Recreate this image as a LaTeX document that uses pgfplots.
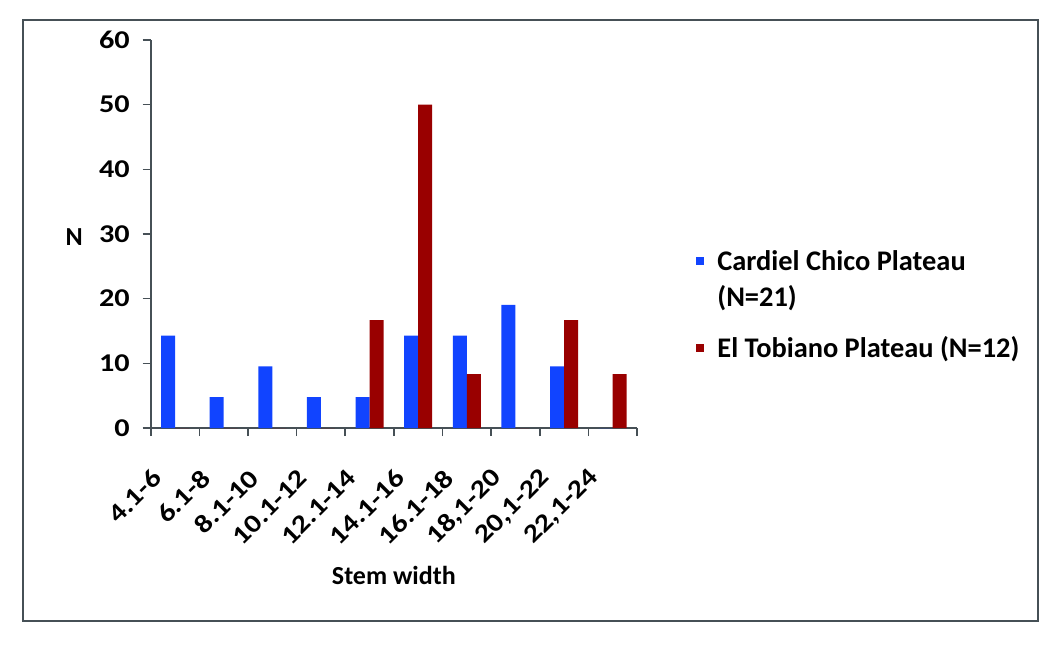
\documentclass[border=0pt]{standalone}
\usepackage{pgfplots}
\pgfplotsset{compat=1.18}
\usepackage{fontspec}
\setmainfont{Carlito}
\newfontfamily\tickfont{Carlito}[FakeStretch=1.18]
\definecolor{cblue}{RGB}{17,68,255}
\definecolor{cred}{RGB}{153,0,0}
\definecolor{axcol}{RGB}{70,80,86}
\newcommand{\tf}{\tickfont\bfseries\fontsize{12.8}{15}\selectfont}
\newcommand{\lf}{\bfseries\fontsize{14.2}{17}\selectfont}
\newcommand{\xf}{\bfseries\fontsize{13}{16}\selectfont}
\begin{document}
\begin{tikzpicture}
\path[use as bounding box] (0,0) rectangle (530.5pt,-323.5pt);
\draw[axcol, line width=1pt] (11.5pt,-10pt) rectangle (519pt,-310.5pt);
\begin{axis}[
  at={(75.35pt,-214pt)}, anchor=south west,
  scale only axis, width=243.15pt, height=194pt,
  xmin=-0.5, xmax=9.5, ymin=0, ymax=60,
  axis x line*=bottom, axis y line*=left,
  axis line style={axcol, line width=0.8pt, -},
  tick align=outside, major tick length=4pt,
  tick style={axcol, line width=0.8pt},
  xtick={-0.5,0.5,...,9.5},
  x tick label as interval,
  xticklabels={4.1-6,6.1-8,8.1-10,10.1-12,12.1-14,14.1-16,16.1-18,{18,1-20},{20,1-22},{22,1-24}},
  ytick={0,10,...,60},
  /pgf/number format/assume math mode=true,
  tick label style={font=\tf, text=black},
  x tick label style={xshift=-6.5pt, yshift=-16.5pt, rotate=45, anchor=east},
  y tick label style={xshift=-3pt},
  xlabel={Stem width},
  xlabel style={at={(axis description cs:0.5,0)}, anchor=center, yshift=-73.5pt, font=\xf},
  ylabel={N},
  ylabel style={rotate=-90, at={(axis description cs:0,0.5)}, anchor=east, xshift=-30.5pt, yshift=-1.5pt, font=\bfseries\fontsize{13}{16}\selectfont},
  ybar=0pt, bar width=7pt,
  legend style={at={(axis description cs:1,0.4768)}, anchor=north west, xshift=29.5pt,
    draw=none, fill=none, font=\lf, legend cell align=left, inner sep=0pt,
    nodes={inner sep=0pt, text height=13.5pt, text depth=4.5pt}, column sep=6.5pt},
  legend image code/.code={\fill[#1,draw=none] (0pt,-2pt) rectangle (4pt,2pt);},
]
\addplot[fill=cblue, draw=none] coordinates {(0,14.29) (1,4.76) (2,9.52) (3,4.76) (4,4.76) (5,14.29) (6,14.29) (7,19.05) (8,9.52) (9,0)};
\addlegendentry{Cardiel Chico Plateau}
\addlegendimage{empty legend}
\addlegendentry[text depth=12pt]{(N=21)}
\addplot[fill=cred, draw=none] coordinates {(0,0) (1,0) (2,0) (3,0) (4,16.67) (5,50) (6,8.33) (7,0) (8,16.67) (9,8.33)};
\addlegendentry{El Tobiano Plateau (N=12)}
\end{axis}
\end{tikzpicture}
\end{document}
